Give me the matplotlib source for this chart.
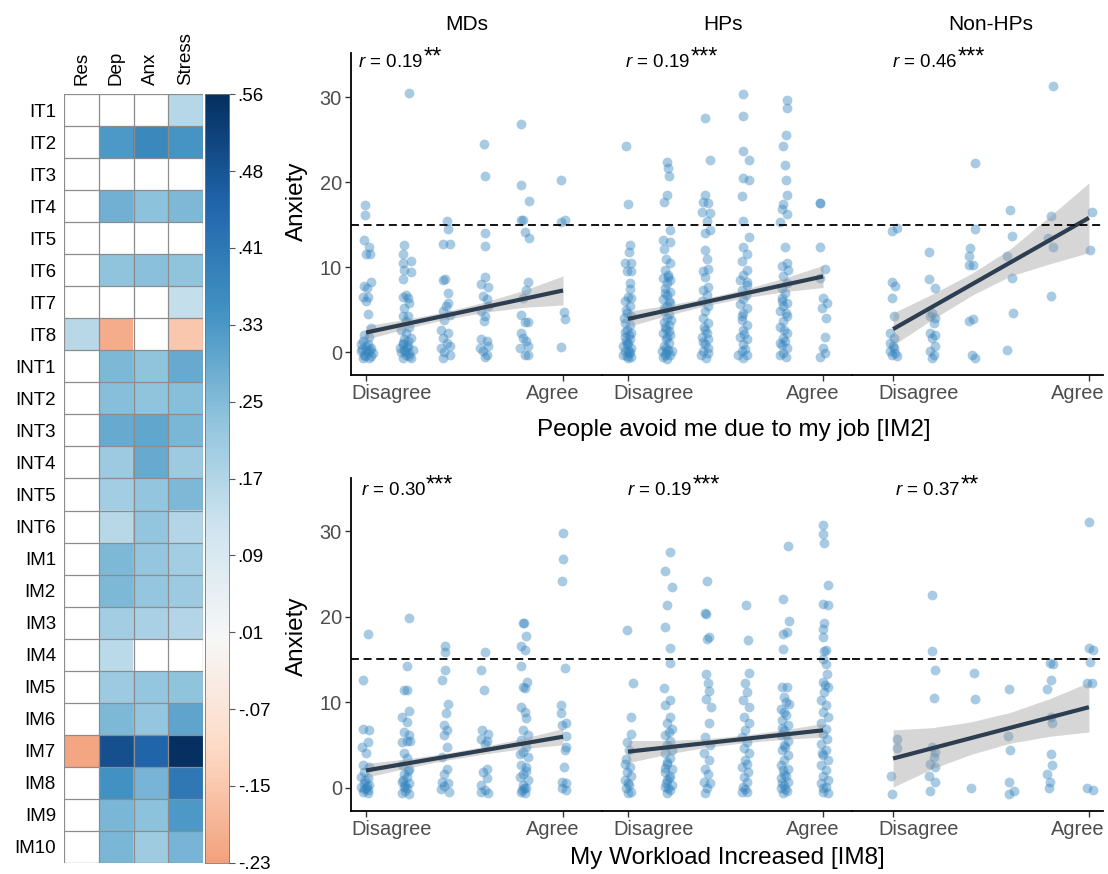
import numpy as np
import matplotlib
matplotlib.use("Agg")
import matplotlib.pyplot as plt
from matplotlib.colors import Normalize
from matplotlib.transforms import ScaledTranslation

plt.rcParams["font.family"] = ["Liberation Sans", "DejaVu Sans"]
plt.rcParams["mathtext.fontset"] = "custom"
plt.rcParams["mathtext.it"] = "Liberation Sans:italic"
plt.rcParams["mathtext.rm"] = "Liberation Sans"

# ---------------- heatmap data ----------------
heat_rows = ["IT1", "IT2", "IT3", "IT4", "IT5", "IT6", "IT7", "IT8",
             "INT1", "INT2", "INT3", "INT4", "INT5", "INT6",
             "IM1", "IM2", "IM3", "IM4", "IM5", "IM6", "IM7", "IM8", "IM9", "IM10"]
heat_cols = ["Res", "Dep", "Anx", "Stress"]
nan = np.nan
heat_vals = [
    [nan, nan, nan, 0.16],
    [nan, 0.32, 0.36, 0.33],
    [nan, nan, nan, nan],
    [nan, 0.27, 0.23, 0.25],
    [nan, nan, nan, nan],
    [nan, 0.225, 0.235, 0.225],
    [nan, nan, nan, 0.135],
    [0.155, -0.21, nan, -0.15],
    [nan, 0.25, 0.225, 0.28],
    [nan, 0.24, 0.225, 0.24],
    [nan, 0.28, 0.29, 0.255],
    [nan, 0.205, 0.28, 0.205],
    [nan, 0.195, 0.22, 0.25],
    [nan, 0.155, 0.22, 0.165],
    [nan, 0.25, 0.215, 0.195],
    [nan, 0.25, 0.215, 0.205],
    [nan, 0.195, 0.18, 0.165],
    [nan, 0.15, nan, nan],
    [nan, 0.205, 0.215, 0.225],
    [nan, 0.25, 0.215, 0.295],
    [-0.22, 0.49, 0.45, 0.56],
    [nan, 0.34, 0.26, 0.40],
    [nan, 0.255, 0.23, 0.32],
    [nan, 0.255, 0.20, 0.26],
]
cbar_ticks = [0.56, 0.481, 0.402, 0.323, 0.244, 0.165, 0.086, 0.007, -0.072, -0.151, -0.23]
cbar_labels = [".56", ".48", ".41", ".33", ".25", ".17", ".09", ".01", "-.07", "-.15", "-.23"]

# ---------------- scatter data (x = response level + jitter, y = anxiety) ----------------
groups = ["MDs", "HPs", "Non-HPs"]
level_ticks = [1, 6]
level_names = ["Disagree", "Agree"]

top_mds = [
    (0.97, 17.3), (0.97, 16.1), (0.96, 13.2), (1.08, 12.4), (1.0, 11.6), (1.11, 11.5), (1.13, 8.2), (0.96, 7.8),
    (1.03, 7.5), (0.92, 6.5), (1.04, 6.5), (1.0, 6.0), (1.04, 4.5), (1.13, 2.8), (0.96, 2.0), (1.08, 1.8),
    (0.92, 1.3), (0.87, 0.9), (1.0, 0.7), (1.13, 0.5), (1.0, 0.3), (0.87, 0.1), (1.04, 0.0), (1.17, -0.1),
    (0.96, -0.3), (1.13, -0.5), (0.92, -0.7), (1.08, -0.7), (0.90, 0.4), (1.06, 1.0), (0.98, -0.5), (1.10, 0.2),
    (2.10, 30.5), (1.97, 12.6), (1.93, 11.6), (2.14, 10.7), (1.93, 10.5), (1.97, 9.6), (2.14, 9.4), (1.93, 8.6),
    (2.02, 6.7), (1.93, 6.5), (2.06, 6.4), (2.10, 5.8), (1.97, 5.2), (1.93, 4.2), (2.06, 4.2), (2.02, 3.6),
    (2.10, 3.0), (1.89, 2.6), (2.02, 2.2), (2.14, 1.6), (1.97, 1.5), (2.06, 1.3), (1.93, 0.9), (2.06, 0.7),
    (1.97, 0.3), (1.89, 0.0), (2.10, -0.1), (2.02, -0.3), (1.93, -0.7), (2.14, -0.7), (1.85, 0.5), (2.19, 0.3),
    (2.0, 0.1), (2.08, -0.5), (1.95, 1.1), (2.04, 0.6),
    (3.06, 15.4), (3.08, 14.5), (2.95, 12.7), (3.12, 12.7), (2.95, 8.5), (3.01, 8.6), (3.09, 6.9), (3.08, 5.8),
    (3.03, 5.4), (2.95, 4.8), (3.12, 4.4), (2.99, 3.8), (2.91, 2.6), (3.08, 2.3), (2.95, 1.7), (3.06, 1.1),
    (2.91, 0.5), (3.12, 0.7), (2.99, 0.0), (2.95, -0.7), (3.12, -0.3),
    (4.0, 24.5), (4.02, 20.7), (4.02, 14.0), (4.02, 12.5), (3.93, 8.0), (4.03, 8.8), (4.10, 7.7), (3.97, 6.6),
    (4.06, 6.2), (4.10, 5.4), (3.93, 4.8), (4.03, 4.2), (4.0, 3.6), (3.93, 1.5), (4.06, 1.3), (3.89, 0.5),
    (4.10, 0.7), (3.97, 0.1), (4.06, -0.3), (4.02, -0.6),
    (4.94, 26.8), (4.94, 19.7), (5.14, 17.8), (4.94, 15.6), (4.98, 15.6), (5.03, 14.1), (5.14, 13.4), (5.11, 8.2),
    (5.07, 7.3), (4.98, 6.4), (4.94, 4.4), (5.03, 3.5), (5.11, 3.5), (4.94, 2.2), (4.98, 1.6), (5.07, 1.3),
    (4.90, 0.5), (5.11, 0.7), (5.03, -0.3), (5.11, -0.3),
    (5.94, 20.3), (6.04, 15.6), (5.94, 15.3), (6.03, 4.7), (6.06, 3.9), (5.94, 0.6),
]
top_hps = [
    (0.95, 24.2), (1.01, 17.4), (1.05, 12.6), (1.03, 11.8), (0.92, 10.5), (1.09, 10.5), (0.97, 9.5), (1.09, 9.5),
    (1.05, 8.1), (1.01, 6.5), (1.09, 6.4), (0.92, 6.0), (1.05, 5.4), (0.97, 4.6), (1.09, 4.2), (0.92, 3.4),
    (1.05, 3.2), (0.97, 2.6), (1.09, 2.2), (0.92, 1.8), (1.05, 1.5), (0.97, 0.9), (1.09, 0.5), (0.92, 0.1),
    (1.03, -0.1), (0.97, -0.5), (1.09, -0.6), (0.88, -0.3), (1.01, 0.3), (0.88, 0.7), (1.01, 1.1), (0.92, 2.4),
    (1.0, -0.7), (1.06, 0.0), (0.95, 1.3), (1.02, 2.0), (0.90, 4.0), (1.06, 7.4), (0.96, 5.0),
    (1.99, 22.4), (2.03, 21.7), (2.05, 20.7), (1.99, 18.5), (1.92, 17.7), (2.08, 14.4), (1.91, 13.2), (2.08, 12.9),
    (1.92, 12.1), (1.97, 10.9), (2.08, 10.5), (1.95, 9.7), (2.03, 9.1), (1.91, 8.7), (2.08, 8.5), (1.99, 8.1),
    (1.95, 7.5), (2.08, 7.1), (1.99, 6.7), (1.91, 6.2), (2.08, 5.8), (1.99, 5.4), (1.92, 4.8), (2.06, 4.5),
    (1.99, 4.0), (1.92, 3.5), (2.06, 3.2), (1.97, 2.7), (1.91, 2.2), (2.08, 2.0), (1.97, 1.5), (2.06, 1.1),
    (1.92, 0.7), (2.03, 0.3), (1.97, -0.1), (2.08, -0.4), (1.91, -0.6), (2.01, -0.8), (2.12, 0.1), (1.86, 0.1),
    (2.0, 1.8), (1.94, 3.0), (2.04, 6.0), (1.96, 7.0), (2.02, 8.8), (1.98, 0.5), (2.05, 2.5), (1.93, 5.2),
    (2.10, 3.8), (1.95, -0.3),
    (2.97, 27.6), (3.09, 22.6), (2.97, 18.5), (2.93, 17.7), (3.06, 17.5), (2.89, 16.5), (3.10, 16.4), (3.02, 15.4),
    (3.10, 14.4), (2.97, 14.0), (2.97, 12.0), (3.02, 10.9), (3.06, 9.8), (2.93, 9.5), (2.97, 8.8), (3.06, 7.7),
    (2.93, 7.3), (3.02, 6.7), (2.89, 6.0), (3.06, 5.4), (2.97, 4.8), (2.93, 4.0), (3.06, 3.4), (2.97, 2.6),
    (2.89, 1.8), (3.06, 1.5), (2.97, 0.9), (2.93, 0.1), (3.06, -0.1), (3.0, -0.7), (2.86, -0.3), (3.02, 2.2),
    (2.95, 3.0), (3.04, 0.5), (2.92, 1.2),
    (3.94, 30.4), (3.94, 27.8), (3.94, 23.7), (4.09, 22.6), (3.96, 20.5), (4.09, 20.3), (3.91, 18.4), (3.94, 15.4),
    (4.11, 13.6), (3.96, 12.4), (4.04, 11.6), (3.91, 10.7), (4.04, 9.7), (3.96, 9.1), (3.87, 8.5), (4.04, 7.9),
    (3.91, 7.3), (4.03, 6.7), (3.96, 6.2), (3.87, 5.6), (4.04, 5.2), (3.96, 4.6), (3.91, 3.8), (4.04, 3.2),
    (3.96, 2.6), (3.87, 1.8), (4.04, 1.5), (3.96, 0.9), (3.91, 0.1), (4.04, -0.3), (3.96, -0.7), (3.83, -0.3),
    (3.98, 2.1), (4.0, 0.4), (3.92, 4.2), (4.06, 8.2),
    (5.07, 29.7), (5.07, 28.7), (5.05, 25.6), (4.97, 24.3), (5.03, 22.0), (5.05, 20.2), (5.07, 18.5), (4.98, 17.4),
    (4.94, 16.8), (5.07, 16.2), (4.90, 15.3), (5.03, 12.4), (5.07, 10.5), (4.94, 10.1), (5.11, 9.7), (4.98, 8.9),
    (5.07, 8.1), (4.94, 7.5), (5.03, 6.9), (4.94, 6.4), (5.07, 5.8), (4.98, 5.4), (4.90, 4.8), (5.07, 4.2),
    (4.98, 3.6), (4.90, 3.0), (5.07, 2.2), (4.98, 1.6), (4.90, 1.1), (5.07, 0.5), (4.98, -0.1), (4.90, -0.4),
    (5.05, -0.6), (5.0, 2.6), (4.95, 0.8), (5.04, 4.6), (4.96, 6.0), (5.02, 1.3),
    (5.91, 17.6), (5.92, 17.5), (5.92, 12.4), (6.05, 9.8), (5.92, 8.7), (6.01, 6.4), (6.09, 5.8), (5.97, 5.2),
    (6.08, 4.0), (6.05, 1.8), (5.99, 0.5), (6.05, -0.1), (5.91, -0.6),
]
top_non = [
    (0.97, 14.3), (1.10, 14.6), (0.97, 8.2), (1.06, 7.8), (0.97, 6.4), (1.03, 4.2), (0.93, 2.2), (1.02, 1.6),
    (0.91, 1.1), (1.0, 0.7), (0.93, 0.1), (1.06, -0.1), (0.97, -0.4), (1.10, -0.5), (1.02, 0.5),
    (1.93, 11.8), (1.93, 8.6), (2.08, 7.5), (2.0, 4.6), (2.08, 4.0), (2.04, 3.4), (1.94, 2.2), (2.08, 2.0),
    (2.0, 1.6), (2.08, 0.7), (1.94, 0.1), (2.04, -0.3), (2.0, -0.7), (1.95, 4.2),
    (3.09, 22.2), (3.09, 14.5), (2.97, 12.2), (2.93, 11.3), (2.93, 10.3), (3.03, 10.3), (3.04, 3.9), (2.93, 3.6),
    (3.02, -0.3), (3.09, -0.7),
    (3.98, 16.7), (4.04, 13.7), (3.91, 11.3), (4.04, 8.7), (4.06, 4.6), (3.91, 0.2),
    (5.09, 31.3), (5.03, 16.0), (4.95, 13.4), (5.09, 12.4), (5.02, 6.6),
    (6.08, 16.5), (6.04, 12.0),
]
bot_mds = [
    (1.04, 17.9), (0.93, 12.6), (0.93, 6.8), (1.07, 6.7), (0.90, 4.8), (1.04, 5.3), (1.0, 4.0), (0.92, 2.6),
    (1.07, 2.4), (0.96, 1.8), (0.87, 1.2), (1.04, 1.1), (0.96, 0.5), (1.08, 0.3), (0.87, 0.1), (1.0, -0.1),
    (0.92, -0.5), (1.04, -0.6), (0.98, 0.9), (1.02, 0.2), (0.94, -0.2), (1.06, -0.3),
    (2.10, 19.8), (2.04, 14.2), (1.96, 11.4), (2.04, 11.4), (2.08, 9.0), (1.92, 8.3), (2.04, 7.7), (1.96, 6.5),
    (2.08, 6.1), (2.04, 5.5), (2.11, 5.5), (1.92, 5.3), (1.96, 4.0), (2.04, 3.4), (1.92, 2.6), (2.08, 2.2),
    (1.96, 1.6), (2.04, 1.2), (1.92, 0.7), (2.08, 0.5), (1.96, 0.1), (2.04, -0.1), (1.92, -0.6), (2.08, -0.7),
    (2.0, 0.3), (2.0, -0.4), (1.95, 0.9), (2.06, 1.9),
    (3.0, 16.5), (3.0, 15.8), (3.0, 13.7), (2.94, 12.6), (3.07, 9.8), (3.03, 8.7), (2.97, 7.3), (3.05, 6.7),
    (2.98, 6.1), (3.05, 4.8), (2.94, 3.6), (3.05, 2.2), (2.98, 1.6), (2.92, 0.7), (3.07, 0.5), (2.98, 0.2),
    (2.90, -0.2), (3.11, -0.5),
    (4.03, 15.9), (3.93, 13.7), (4.0, 11.4), (3.95, 6.7), (4.10, 6.3), (3.93, 5.7), (4.08, 5.5), (4.02, 5.1),
    (4.08, 2.2), (3.97, 1.8), (4.06, 1.1), (3.93, 0.3), (4.02, -0.3), (3.93, -0.5), (4.10, -0.6),
    (4.98, 19.3), (5.01, 19.2), (5.07, 17.7), (4.94, 16.6), (5.03, 16.1), (4.94, 14.2), (5.09, 12.4), (4.98, 11.8),
    (5.03, 11.7), (4.94, 9.4), (5.03, 8.8), (5.07, 8.1), (4.98, 6.7), (5.11, 6.1), (4.94, 5.6), (5.07, 4.8),
    (4.98, 4.2), (5.11, 3.6), (4.94, 2.6), (5.07, 2.4), (4.98, 1.6), (4.90, 1.2), (5.11, 0.9), (4.98, 0.3),
    (5.07, -0.1), (4.94, -0.5), (5.03, -0.6), (5.0, 0.0), (4.96, -0.3), (5.05, 1.9), (4.92, 3.9),
    (6.0, 29.8), (6.0, 26.7), (5.97, 24.2), (6.05, 14.0), (5.94, 9.6), (5.94, 8.7), (6.08, 7.6), (5.97, 7.3),
    (6.07, 6.0), (6.08, 4.8), (6.05, 4.4), (6.03, 2.4), (5.98, 0.7), (6.07, 0.5), (5.97, -0.1), (6.08, -0.3),
]
bot_hps = [
    (0.97, 18.4), (1.12, 12.2), (1.09, 8.3), (1.09, 6.3), (0.97, 5.3), (1.03, 4.4), (0.92, 2.8), (1.05, 2.4),
    (0.97, 1.8), (1.07, 1.4), (0.92, 0.9), (1.03, 0.3), (0.95, -0.1), (1.09, -0.5), (1.01, 0.5), (1.0, -0.6),
    (0.94, 3.3),
    (2.08, 27.6), (1.95, 25.3), (2.12, 23.4), (2.01, 21.3), (1.95, 18.8), (2.08, 16.3), (2.08, 14.6), (1.93, 11.6),
    (2.08, 10.2), (1.95, 9.6), (2.08, 8.3), (1.99, 7.5), (2.12, 6.9), (1.95, 6.1), (2.08, 5.5), (1.99, 5.0),
    (2.12, 4.4), (1.95, 4.0), (2.08, 3.4), (1.99, 2.8), (2.12, 2.2), (1.95, 1.8), (2.08, 1.4), (1.99, 0.9),
    (2.12, 0.3), (1.95, 0.1), (2.08, -0.3), (1.99, -0.6), (2.02, -0.1), (1.97, 0.5), (2.05, 1.1), (2.0, 3.0),
    (1.96, 2.3), (2.04, 6.5),
    (3.03, 24.1), (2.98, 20.4), (3.01, 20.3), (3.07, 17.6), (3.03, 17.4), (3.01, 13.3), (3.04, 12.2), (3.07, 11.3),
    (3.01, 10.3), (3.13, 9.4), (3.07, 7.5), (2.98, 5.9), (3.09, 5.0), (2.94, 4.0), (3.07, 3.2), (2.98, 2.2),
    (3.04, 1.6), (2.94, 0.7), (3.09, 0.5), (3.03, -0.1), (2.98, -0.6),
    (4.03, 21.4), (4.08, 17.2), (4.10, 13.4), (3.99, 12.2), (4.06, 11.2), (3.95, 10.2), (4.10, 9.4), (3.97, 8.3),
    (4.10, 7.5), (4.01, 6.7), (3.93, 5.9), (4.06, 5.3), (3.97, 4.6), (4.10, 4.0), (4.01, 3.2), (3.93, 2.4),
    (4.07, 1.8), (3.97, 1.2), (4.06, 0.7), (3.95, 0.1), (4.06, -0.5), (3.93, -0.5), (4.0, -0.2), (4.04, 2.8),
    (5.11, 28.3), (4.98, 22.1), (5.13, 19.5), (5.07, 18.2), (4.98, 17.9), (4.98, 16.2), (4.96, 11.8), (5.07, 11.8),
    (5.0, 10.6), (5.13, 9.8), (4.91, 9.2), (5.04, 8.5), (4.96, 7.9), (5.09, 7.3), (5.0, 6.7), (4.91, 6.1),
    (5.09, 5.5), (5.0, 5.0), (4.96, 4.4), (5.09, 3.8), (5.0, 3.2), (4.91, 2.6), (5.09, 2.2), (5.0, 1.6),
    (4.93, 1.1), (5.09, 0.7), (5.0, 0.3), (4.91, -0.1), (5.07, -0.4), (4.98, -0.6), (5.03, -0.2), (4.95, 0.5),
    (5.05, 1.3), (4.97, 2.0), (5.02, 4.7), (5.06, 6.2), (4.94, 7.0), (5.0, 8.8), (5.05, 10.0),
    (6.0, 30.7), (6.0, 29.7), (6.03, 28.6), (6.13, 23.7), (6.01, 21.5), (6.13, 21.3), (6.03, 19.2), (5.99, 18.5),
    (6.01, 17.6), (6.07, 16.1), (5.99, 15.0), (6.07, 14.5), (6.10, 13.3), (5.99, 12.4), (6.12, 11.8), (6.03, 11.2),
    (5.94, 10.2), (6.07, 9.6), (5.99, 8.8), (6.12, 8.3), (5.94, 7.5), (6.07, 6.9), (5.99, 6.3), (6.10, 5.7),
    (5.94, 5.1), (6.07, 4.4), (5.99, 3.8), (6.12, 3.2), (5.94, 2.6), (6.07, 2.0), (5.99, 1.4), (6.12, 0.9),
    (5.94, 0.5), (6.07, 0.1), (5.99, -0.5), (6.12, -0.6), (6.02, 16.0), (6.05, 12.0), (6.0, 0.0), (5.97, 4.0),
]
bot_non = [
    (1.09, 5.7), (1.09, 4.6), (0.95, 1.3), (0.97, -0.7),
    (2.0, 22.5), (2.0, 16.0), (2.08, 13.7), (2.04, 10.5), (2.0, 4.8), (2.08, 4.2), (2.04, 3.6), (1.94, 2.8),
    (2.08, 2.4), (1.91, 1.4), (2.08, 0.7), (1.95, -0.4),
    (3.06, 13.4), (3.09, 10.3), (3.0, -0.1),
    (3.95, 11.5), (3.93, 6.0), (3.98, 4.4), (3.95, 0.7), (3.95, -0.7), (4.08, -0.4),
    (5.0, 14.6), (5.09, 14.5), (5.03, 12.6), (4.93, 11.5), (5.02, 8.3), (5.06, 7.5), (5.03, 3.9), (5.06, 2.6),
    (4.93, 1.6), (5.0, 0.7), (4.97, -0.1),
    (6.0, 31.1), (6.0, 16.3), (6.10, 16.1), (6.02, 14.7), (5.94, 12.2), (6.08, 12.2), (5.94, -0.1), (6.11, -0.3),
]

# fitted line (value at level 1 and level 6) and CI half-width at levels 1..6
fit_levels = [1, 2, 3, 4, 5, 6]
top_fit = [(2.3, 7.25), (3.9, 8.9), (2.7, 15.8)]
top_ci = [[0.8, 0.55, 0.45, 0.6, 1.0, 1.7],
          [0.9, 0.6, 0.45, 0.5, 0.8, 1.3],
          [1.9, 1.5, 1.3, 1.6, 2.8, 4.1]]
bot_fit = [(2.0, 5.95), (4.2, 6.7), (3.4, 9.4)]
bot_ci = [[0.8, 0.55, 0.4, 0.45, 0.6, 0.95],
          [1.3, 0.8, 0.5, 0.45, 0.55, 0.8],
          [3.35, 2.4, 1.9, 1.8, 2.2, 2.9]]
top_r = [("0.19", "**"), ("0.19", "***"), ("0.46", "***")]
bot_r = [("0.30", "***"), ("0.19", "***"), ("0.37", "**")]
cutoff = 15

# ---------------- figure ----------------
W, H = 1108, 874
fig = plt.figure(figsize=(W / 100, H / 100), dpi=100)


def box(l, t, r, b):
    return [l / W, 1 - b / H, (r - l) / W, (b - t) / H]


def px(x, y):
    return x / W, 1 - y / H


cmap = plt.get_cmap("RdBu")
norm = Normalize(-0.56, 0.56)

# heatmap
vals = np.array(heat_vals, dtype=float)
rgba = cmap(norm(np.nan_to_num(vals)))
rgba[np.isnan(vals)] = (1, 1, 1, 1)
axh = fig.add_axes(box(64.3, 94.3, 202.7, 862.7))
axh.imshow(rgba, extent=(0, len(heat_cols), len(heat_rows), 0), aspect="auto", interpolation="nearest")
for k in range(len(heat_rows) + 1):
    axh.axhline(k, color="#8c8c8c", lw=0.9)
for k in range(len(heat_cols) + 1):
    axh.axvline(k, color="#8c8c8c", lw=0.9)
axh.set_xlim(0, len(heat_cols))
axh.set_ylim(len(heat_rows), 0)
for s in axh.spines.values():
    s.set_visible(False)
axh.set_yticks(np.arange(len(heat_rows)) + 0.5, heat_rows)
axh.xaxis.tick_top()
axh.set_xticks(np.arange(len(heat_cols)) + 0.5, heat_cols, rotation=90)
axh.tick_params(axis="y", length=0, pad=6, labelsize=13.5)
axh.tick_params(axis="x", length=0, pad=7, labelsize=13.5)

# colour bar
lo, hi = cbar_ticks[-1], cbar_ticks[0]
axc = fig.add_axes(box(205, 94.3, 229.3, 862.7))
axc.imshow(np.linspace(lo, hi, 400)[:, None], origin="lower", extent=(0, 1, lo, hi),
           aspect="auto", cmap=cmap, norm=norm)
axc.set_xlim(0, 1)
axc.set_ylim(lo, hi)
axc.set_xticks([])
axc.yaxis.tick_right()
axc.set_yticks(cbar_ticks, cbar_labels)
axc.tick_params(axis="y", length=4, width=0.8, color="#555555", pad=2, labelsize=13.5)
for s in axc.spines.values():
    s.set_linewidth(0.6)
    s.set_color("#777777")

# scatter facets
panel_l = 351
panel_w = 250.67
xlims = [(0.619, 6.98), (0.326, 6.75), (-0.04, 6.36)]
rows = [
    dict(t=53, b=375, ylim=(-2.7, 35.2), data=[top_mds, top_hps, top_non], fit=top_fit, ci=top_ci,
         r=top_r, r_pos=[(358, 67), (625, 67), (892, 67)], ylab_y=201, xlab=("People avoid me due to my job [IM2]", 734, 430)),
    dict(t=478, b=811, ylim=(-2.74, 36.2), data=[bot_mds, bot_hps, bot_non], fit=bot_fit, ci=bot_ci,
         r=bot_r, r_pos=[(360.7, 495), (627.3, 495), (895, 495)], ylab_y=636, xlab=("My Workload Increased [IM8]", 727, 858)),
]
tick_col = "#4D4D4D"

for row in rows:
    for i in range(3):
        l = panel_l + i * panel_w
        ax = fig.add_axes(box(l, row["t"], l + panel_w, row["b"]))
        pts = np.array(row["data"][i])
        ax.scatter(pts[:, 0], pts[:, 1], s=50, color="#3182BD", alpha=0.42, linewidths=0, zorder=2)
        y1, y6 = row["fit"][i]
        lv = np.array(fit_levels, dtype=float)
        center = y1 + (lv - lv[0]) * (y6 - y1) / (lv[-1] - lv[0])
        hw = np.array(row["ci"][i])
        ax.fill_between(lv, center - hw, center + hw, color="#999999", alpha=0.4, lw=0, zorder=3)
        ax.plot([lv[0], lv[-1]], [y1, y6], color="#2C3E50", lw=3, solid_capstyle="butt", zorder=4)
        ax.axhline(cutoff, color="black", lw=1.3, linestyle=(0, (4.4, 2.6)), zorder=5)
        ax.set_xlim(*xlims[i])
        ax.set_ylim(*row["ylim"])
        ax.set_facecolor("none")
        for s in ["top", "right"]:
            ax.spines[s].set_visible(False)
        ax.spines["bottom"].set_linewidth(1.3)
        ax.spines["left"].set_linewidth(1.3)
        ax.set_xticks(level_ticks, level_names)
        ax.tick_params(axis="x", length=4, width=1, color="#333333", pad=2.5, labelsize=14.4, labelcolor=tick_col)
        for lab, ha, dx in zip(ax.get_xticklabels(), ["left", "right"], [-15, 16]):
            lab.set_horizontalalignment(ha)
            lab.set_transform(lab.get_transform() + ScaledTranslation(dx / 100, 0, fig.dpi_scale_trans))
        if i == 0:
            ax.set_yticks([0, 10, 20, 30])
            ax.tick_params(axis="y", length=4, width=1, color="#333333", pad=2.5, labelsize=14.4, labelcolor=tick_col)
        else:
            ax.spines["left"].set_visible(False)
            ax.set_yticks([])
        val, stars = row["r"][i]
        rx, ry = row["r_pos"][i]
        t = fig.text(*px(rx, ry), r"$r$ = " + val, fontsize=13.5, ha="left", va="baseline")
        ax.annotate(stars, xy=(1, 0.42), xycoords=t, ha="left", va="baseline", fontsize=17,
                    annotation_clip=False)
    fig.text(*px(297, row["ylab_y"]), "Anxiety", rotation=90, ha="center", va="center", fontsize=17.5)
    txt, xx, yy = row["xlab"]
    fig.text(*px(xx, yy), txt, ha="center", va="center", fontsize=17.5)

for name, xx in zip(groups, [467, 723, 991]):
    fig.text(*px(xx, 25), name, ha="center", va="center", fontsize=15)

fig.savefig("out.png", dpi=100)
